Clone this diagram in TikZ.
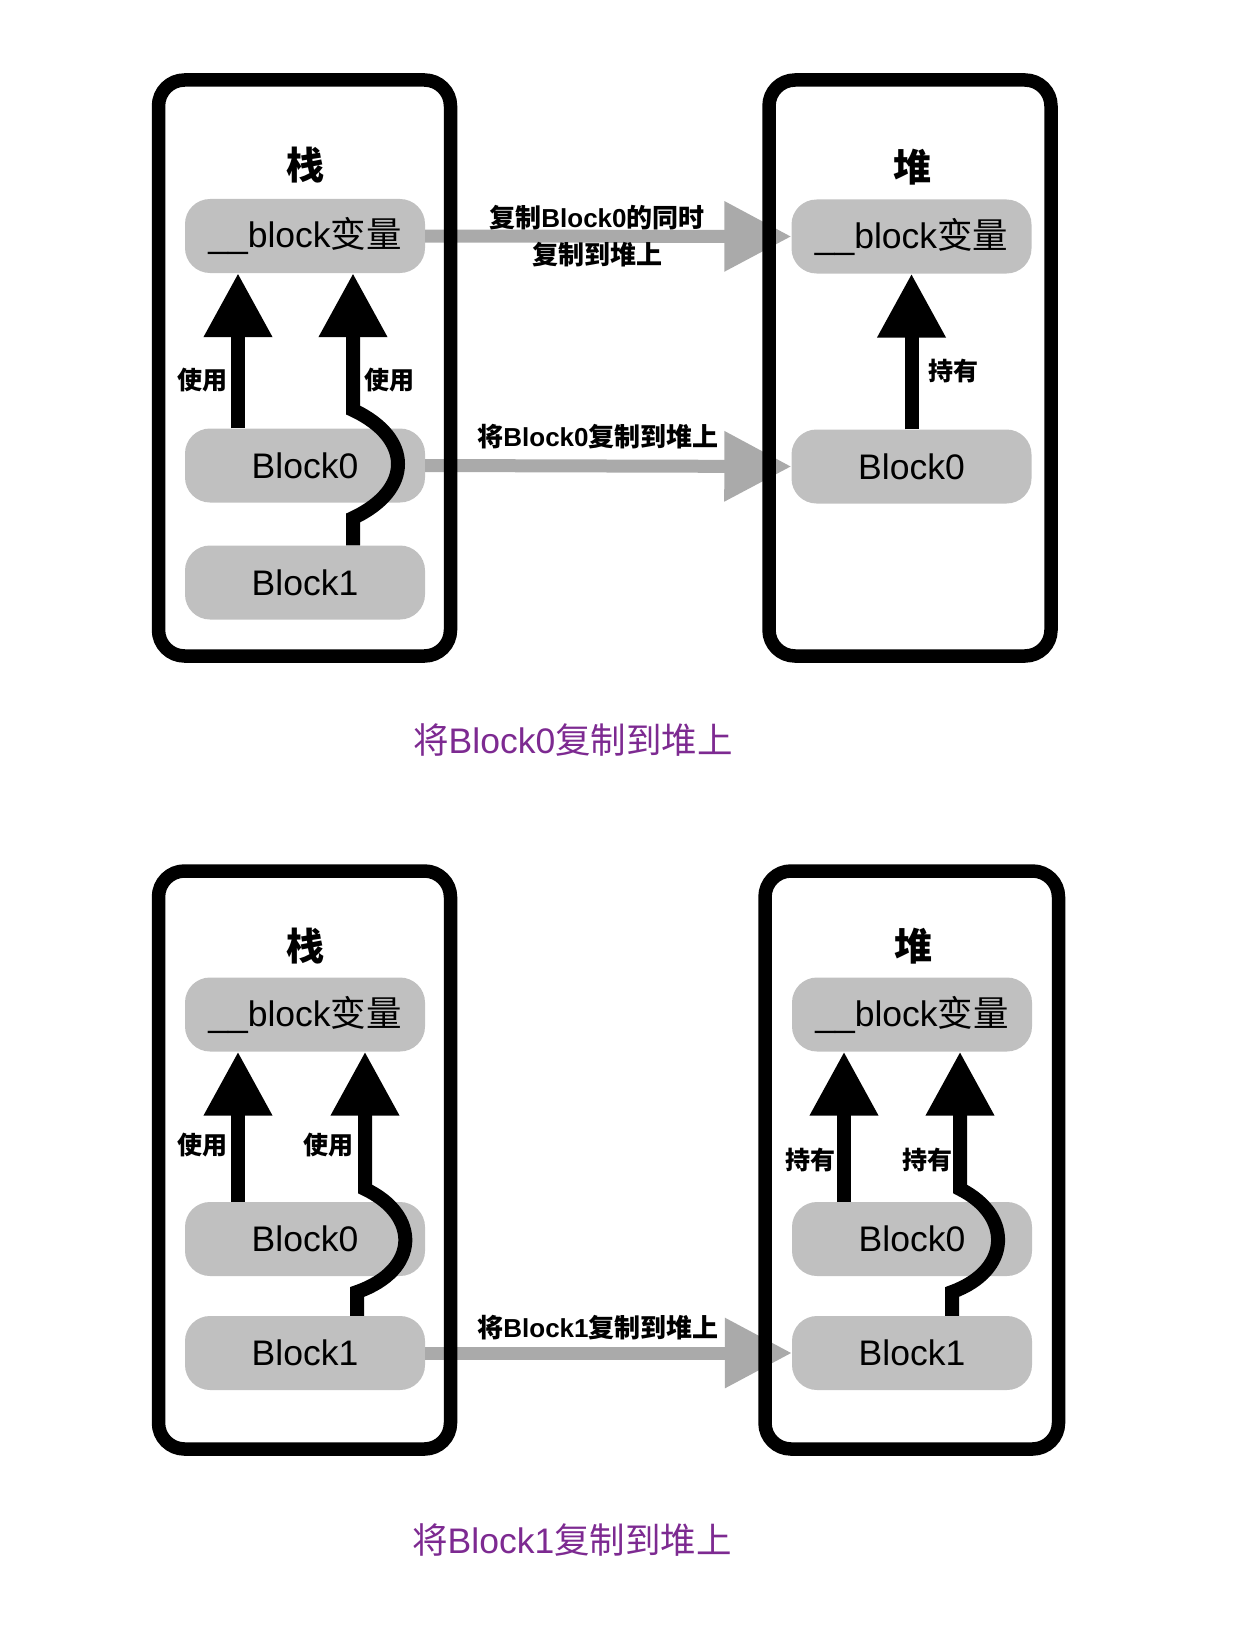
\documentclass[tikz,border=0pt]{standalone}
\usepackage{fontspec}
\setmainfont{Liberation Sans}
\newfontfamily\zhfont{Noto Sans CJK SC}
\newcommand{\zh}[1]{{\zhfont #1}}
\usetikzlibrary{arrows.meta}
\definecolor{boxgray}{RGB}{192,192,192}
\definecolor{arrowgray}{RGB}{170,170,170}
\definecolor{cappurple}{RGB}{125,42,145}
\begin{document}
\begin{tikzpicture}[x=1pt,y=-1pt,
pane/.style={%
draw,
line width=13.5pt,
rounded corners=26pt,
inner sep=0pt
},
box/.style={%
fill=boxgray,
rounded corners=25pt,
minimum width=240pt,
minimum height=74pt,
inner sep=0pt,
font=\fontsize{35.5}{40}\selectfont
},
heading/.style={%
font=\bfseries\zhfont\fontsize{38}{44}\selectfont
},
lbl/.style={%
font=\bfseries\zhfont\fontsize{25}{30}\selectfont
},
copylbl/.style={%
font=\bfseries\fontsize{26}{37}\selectfont,
align=center
},
caption/.style={%
text=cappurple,
font=\fontsize{35.5}{40}\selectfont
},
usearrow/.style={%
line width=14pt,
-{Triangle[length=64pt,width=65pt]}
},
copyarrow/.style={%
draw=arrowgray,
line width=13pt,
-{Triangle[length=67pt,width=67pt]}
},
]
\useasboundingbox (0,0) rectangle (1239,1648);
%% Top: stack
\node[heading] (stk) at (305,165) {栈};
\node[box] (sv) at (305,236) {\_\_block\zh{变量}};
\node[box] (sb0) at (305,465.5) {Block0};
\node[box] (sb1) at (305,582.5) {Block1};
%% Top: heap
\node[heading] (hp) at (912,167) {堆};
\node[box] (hv) at (911.5,236.5) {\_\_block\zh{变量}};
\node[box] (hb0) at (911.5,466.5) {Block0};
%% Top: copies
\draw[copyarrow] (sv.east) -- (hv.west);
\draw[copyarrow] (sb0.east) -- (hb0.west);
\node[copylbl] (cp1) at (597,236) {\zh{复制}Block0\zh{的同时}\\\zh{复制到堆上}};
\node[copylbl] (cp2) at (598,437) {\zh{将}Block0\zh{复制到堆上}};
\node[pane,minimum width=292,minimum height=576] (stack) at (304.5,368) {};
\node[pane,minimum width=282,minimum height=576] (heap) at (910,368) {};
%% Top: uses
\draw[usearrow] ([xshift=-67]sb0.north) -- ([xshift=-67]sv.south);
\draw[usearrow] ([xshift=48]sb1.north) -- (353,518)
  .. controls (413,490) and (413,438) .. (353,410) -- ([xshift=48]sv.south);
\draw[usearrow] (hb0.north) -- (hv.south);
\node[lbl] (u1) at (202,380) {使用};
\node[lbl] (u2) at (389,380) {使用};
\node[lbl] (h1) at (953,371) {持有};
\node[caption] (cap1) at (573,740) {\zh{将}Block0\zh{复制到堆上}};
%% Bottom: stack
\node[heading] (stkb) at (305,946) {栈};
\node[box] (svb) at (305,1014.5) {\_\_block\zh{变量}};
\node[box] (sb0b) at (305,1239) {Block0};
\node[box] (sb1b) at (305,1353) {Block1};
%% Bottom: heap
\node[heading] (hpb) at (913,946) {堆};
\node[box] (hvb) at (912,1014.5) {\_\_block\zh{变量}};
\node[box] (hb0b) at (912,1239) {Block0};
\node[box] (hb1b) at (912,1353) {Block1};
%% Bottom: copy
\draw[copyarrow] (sb1b.east) -- (hb1b.west);
\node[copylbl] (cp3) at (598,1328) {\zh{将}Block1\zh{复制到堆上}};
\node[pane,minimum width=292,minimum height=578] (stackb) at (304.5,1160) {};
\node[pane,minimum width=293.5,minimum height=578] (heapb) at (911.75,1160) {};
%% Bottom: uses
\draw[usearrow] ([xshift=-67]sb0b.north) -- ([xshift=-67]svb.south);
\draw[usearrow] ([xshift=52]sb1b.north) -- (357,1292)
  .. controls (420,1270) and (420,1215) .. (365,1189) -- ([xshift=60]svb.south);
\draw[usearrow] ([xshift=-68]hb0b.north) -- ([xshift=-68]hvb.south);
\draw[usearrow] ([xshift=40]hb1b.north) -- (952,1292)
  .. controls (1012,1270) and (1012,1215) .. (960,1189) -- ([xshift=48]hvb.south);
\node[lbl] (u3) at (202,1145) {使用};
\node[lbl] (u4) at (328,1145) {使用};
\node[lbl] (h2) at (810,1160) {持有};
\node[lbl] (h3) at (927,1160) {持有};
\node[caption] (cap2) at (572,1540) {\zh{将}Block1\zh{复制到堆上}};
\end{tikzpicture}
\end{document}
